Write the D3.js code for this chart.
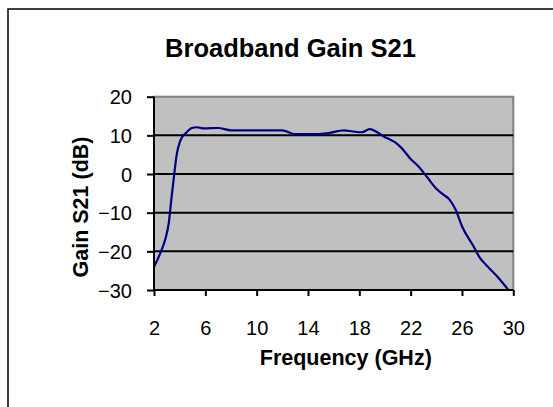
<!DOCTYPE html>
<html>
<head>
<meta charset="utf-8">
<script src="https://cdn.jsdelivr.net/npm/d3@7"></script>
<style>
  html, body { margin: 0; padding: 0; background: #fff; }
  svg { display: block; }
  text { font-family: Arial, "Liberation Sans", Helvetica, sans-serif; fill: #000; }
</style>
</head>
<body>
<svg id="chart" width="553" height="407"></svg>
<script>
const titleText = "Broadband Gain S21";
const xTitle = "Frequency (GHz)";
const yTitle = "Gain S21 (dB)";
const xTicks = [2, 6, 10, 14, 18, 22, 26, 30];
const yTicks = [-30, -20, -10, 0, 10, 20];
const freq = [2, 2.5, 2.9, 3.15, 3.35, 3.55, 3.77, 4.0, 4.2, 4.45, 4.95, 5.35, 5.9, 7.0, 8.0, 10, 12.0, 13.0, 14.8, 15.6, 16.8, 17.5, 18.2, 18.8, 19.4, 20.0, 20.4, 20.8, 21.3, 22.0, 22.6, 23.3, 24.0, 24.5, 25.0, 25.5, 26.0, 26.9, 27.4, 28.0, 28.8, 29.6];
const gain = [-24, -20.4, -16.6, -12.7, -6.6, -0.8, 5, 8.2, 9.6, 10.5, 11.9, 12.1, 11.8, 11.9, 11.3, 11.3, 11.3, 10.3, 10.3, 10.6, 11.3, 11.0, 10.8, 11.6, 10.8, 9.5, 8.9, 8.2, 6.7, 3.9, 2.0, -0.9, -3.8, -5.2, -6.5, -9.2, -13.5, -18.7, -21.7, -23.9, -26.7, -29.9];

const svg = d3.select("#chart");
const L = 154, R = 513.3, T = 96.7, B = 290;

const x = d3.scaleLinear().domain([2, 30]).range([L, R]);
const y = d3.scaleLinear().domain([-30, 20]).range([B, T]);

// outer chart border
svg.append("rect").attr("x", 8).attr("y", 9).attr("width", 600).attr("height", 500)
  .attr("fill", "none").attr("stroke", "#000").attr("stroke-width", 1.5);

// plot area
svg.append("rect").attr("x", L).attr("y", T).attr("width", R - L).attr("height", B - T)
  .attr("fill", "#c0c0c0").attr("stroke", "#808080").attr("stroke-width", 2);

// gridlines
svg.append("g").selectAll("line").data(yTicks.filter(d => d > -30 && d < 20)).join("line")
  .attr("x1", L).attr("x2", R).attr("y1", d => y(d)).attr("y2", d => y(d))
  .attr("stroke", "#000").attr("stroke-width", 2);

// series
const line = d3.line().x((d, i) => x(freq[i])).y(d => y(d)).curve(d3.curveMonotoneX);
svg.append("path").datum(gain).attr("d", line)
  .attr("fill", "none").attr("stroke", "#000080").attr("stroke-width", 2.2);

// axes
const yAxis = d3.axisLeft(y).tickValues(yTicks).tickSize(7).tickPadding(14);
const gy = svg.append("g").attr("transform", `translate(${L},0)`).call(yAxis);
const xAxis = d3.axisBottom(x).tickValues(xTicks).tickSize(6).tickPadding(14);
const gx = svg.append("g").attr("transform", `translate(0,${B})`).call(xAxis);
[gy, gx].forEach(g => {
  g.select(".domain").attr("stroke", "#000").attr("stroke-width", 2);
  g.selectAll(".tick line").attr("stroke", "#000").attr("stroke-width", 2);
  g.selectAll("text").style("font-family", "Arial, 'Liberation Sans', sans-serif")
    .style("font-size", "20px").attr("fill", "#000");
});
gx.selectAll(".domain").attr("d", `M${L},0H${R}`);
gy.selectAll(".domain").attr("d", `M0,${B}V${T}`);
gx.selectAll(".tick text").attr("dy", null).attr("y", 45);
gy.selectAll(".tick text").attr("x", -22).attr("dy", "0.36em");

// titles
svg.append("text").attr("x", 290.5).attr("y", 56.5).attr("text-anchor", "middle")
  .style("font-size", "25.5px").style("font-weight", "bold").text(titleText);
svg.append("text").attr("x", 345.8).attr("y", 365).attr("text-anchor", "middle")
  .style("font-size", "21.5px").style("font-weight", "bold").text(xTitle);
svg.append("text").attr("transform", "translate(88,207) rotate(-90)").attr("text-anchor", "middle")
  .style("font-size", "21.5px").style("font-weight", "bold").text(yTitle);
</script>
</body>
</html>
